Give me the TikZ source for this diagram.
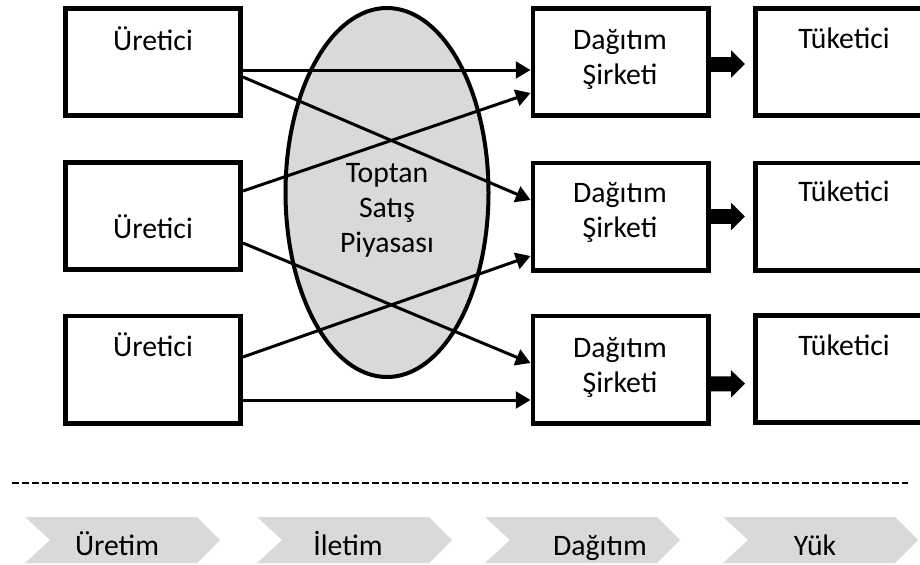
\documentclass[tikz,border=0pt]{standalone}
\usepackage{fontspec}
\setmainfont{Carlito}
\usetikzlibrary{arrows.meta,calc,shapes.geometric}
\definecolor{lightgr}{HTML}{D9D9D9}

\begin{document}
\begin{tikzpicture}[x=0.75pt,y=-0.75pt,
  box/.style={draw,line width=3.4pt,minimum width=131.6pt,minimum height=80.6pt,inner sep=0pt},
  txt/.style={font=\fontsize{22.3}{26.25}\selectfont,inner sep=0pt,align=center},
  conn/.style={line width=2.25pt,-{Triangle[length=11pt,width=12.5pt]}},
  bigarr/.style={line width=11.25pt,-{Triangle[length=10.5pt,width=20pt]},shorten >=6pt},
  chev/.style={fill=lightgr}]
\useasboundingbox (0,0) rectangle (920,564);

\node[ellipse,draw,line width=3pt,fill=lightgr,minimum width=152.25pt,minimum height=276.75pt,inner sep=0pt] (wsm) at (387,192.5) {};
\node[txt] (wsmt) at (387,210.8) {Toptan\\Satış\\Piyasası};

\node[box] (p1) at (153,62) {}; \node[txt,anchor=base] (p1t) at (153,50) {Üretici};
\node[box] (p2) at (153,216) {}; \node[txt,anchor=base] (p2t) at (153,238) {Üretici};
\node[box] (p3) at (153,369.5) {}; \node[txt,anchor=base] (p3t) at (153,356) {Üretici};

\node[box] (d1) at (620.5,62) {}; \node[txt] (d1t) at (620,59) {Dağıtım\\Şirketi};
\node[box] (d2) at (620.5,216.5) {}; \node[txt] (d2t) at (620,212.5) {Dağıtım\\Şirketi};
\node[box] (d3) at (620.5,369.5) {}; \node[txt] (d3t) at (620,367) {Dağıtım\\Şirketi};

\node[box] (t1) at (843,62) {}; \node[txt,anchor=base] (t1t) at (844,48.3) {Tüketici};
\node[box] (t2) at (843,216.5) {}; \node[txt,anchor=base] (t2t) at (844,201.7) {Tüketici};
\node[box] (t3) at (843,369) {}; \node[txt,anchor=base] (t3t) at (844,355) {Tüketici};

\draw[conn] ($(p1.east)+(0,8)$) -- ($(d1.west)+(0,8)$);
\draw[conn] ($(p1.east)+(0,15)$) -- ($(d2.west)+(0,-16.5)$);
\draw[conn] ($(p2.east)+(0,-25)$) -- ($(d1.west)+(0,31)$);
\draw[conn] ($(p2.east)+(0,27)$) -- ($(d3.west)+(0,-6.5)$);
\draw[conn] ($(p3.east)+(0,-12.5)$) -- ($(d2.west)+(0,39.5)$);
\draw[conn] ($(p3.east)+(0,30.5)$) -- ($(d3.west)+(0,30.5)$);

\draw[bigarr] ($(d1.east)+(0,2)$) -- ($(t1.west)+(0,2)$);
\draw[bigarr] (d2.east) -- (t2.west);
\draw[bigarr] ($(d3.east)+(0,14.5)$) -- ($(t3.west)+(0,14.5)$);

\coordinate (sepa) at (12,483);
\coordinate (sepb) at (908,483);
\draw[line width=1.4pt,dash pattern=on 5.25pt off 2.25pt] (sepa) -- (sepb);

\foreach \x in {25,257,485,723}
  \fill[chev] (\x,517) -- ++(172,0) -- ++(23,23) -- ++(-23,23) -- ++(-172,0) -- ++(25,-23) -- cycle;
\node[txt,anchor=base] (s1) at (117,555) {Üretim};
\node[txt,anchor=base] (s2) at (348,555) {İletim};
\node[txt,anchor=base] (s3) at (600,555) {Dağıtım};
\node[txt,anchor=base] (s4) at (815,555) {Yük};
\end{tikzpicture}
\end{document}
